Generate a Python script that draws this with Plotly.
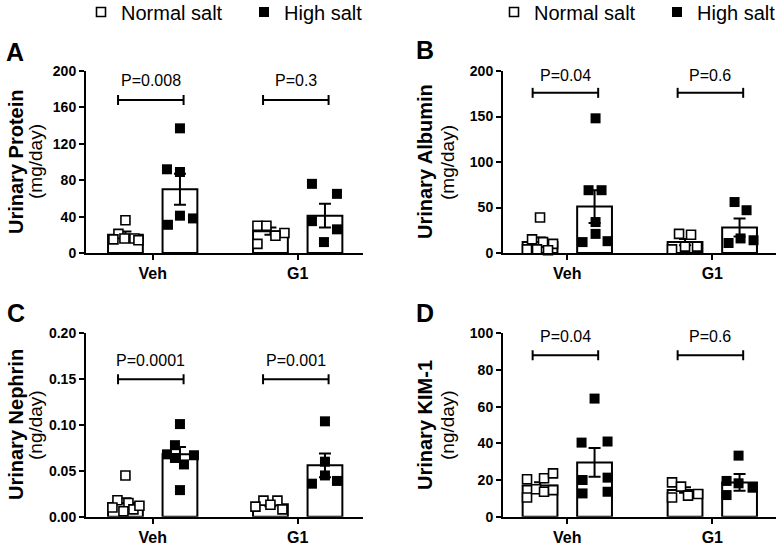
import plotly.graph_objects as go

# ---------------- data ----------------
groups = ["Veh", "G1"]
letters = ["A", "B", "C", "D"]
titles = ["Urinary Protein", "Urinary Albumin", "Urinary Nephrin", "Urinary KIM-1"]
units = ["(mg/day)", "(mg/day)", "(ng/day)", "(ng/day)"]
p_values = [["P=0.008", "P=0.3"], ["P=0.04", "P=0.6"], ["P=0.0001", "P=0.001"], ["P=0.04", "P=0.6"]]
bracket_y = [168, 176, 0.150, 88]
p_text_y = [190, 195, 0.170, 98]
y_max = [200, 200, 0.20, 100]
y_dtick = [40, 50, 0.05, 20]
y_format = ["d", "d", ".2f", "d"]

# group means and SEM  [Veh, G1]
mean_normal = [[20, 24], [12, 12], [0.015, 0.0135], [17, 14.5]]
sem_normal = [[3.5, 4], [5, 3.5], [0.005, 0.002], [1.8, 1.5]]
mean_high = [[70, 41], [51, 28], [0.068, 0.056], [29.6, 18.7]]
sem_high = [[17, 13], [18, 10], [0.008, 0.013], [7.8, 4.6]]

# individual animals
A_normal_veh = [36, 21, 15, 16, 16, 14]
A_normal_g1 = [30, 30, 22, 19, 10]
A_high_veh = [137, 92, 89, 41, 31, 38]
A_high_g1 = [76, 65, 35, 26, 12]

B_normal_veh = [39, 15, 12, 10, 4, 4, 3]
B_normal_g1 = [21, 20, 4, 7, 7]
B_high_veh = [148, 69, 69, 34, 21, 12, 13]
B_high_g1 = [56, 47, 16, 11, 14]

C_normal_veh = [0.045, 0.018, 0.015, 0.010, 0.006, 0.008, 0.012]
C_normal_g1 = [0.0175, 0.0175, 0.013, 0.011, 0.008]
C_high_veh = [0.101, 0.078, 0.068, 0.067, 0.064, 0.057, 0.029]
C_high_g1 = [0.104, 0.060, 0.045, 0.036, 0.039]

D_normal_veh = [20.4, 10.5, 15, 21, 13.6, 23.6, 14.5]
D_normal_g1 = [18.7, 16.4, 10.5, 11.5, 12.4]
D_high_veh = [64.4, 40.4, 41, 20, 21.3, 12.7, 13.6]
D_high_g1 = [33.3, 19.5, 18.2, 15.8, 11.8]

# horizontal scatter of points within a bar (pixels)
A_normal_veh_jit = [0, -7, -12, -1, 9, 13]
A_normal_g1_jit = [-13, -4, 14, 5, -13]
A_high_veh_jit = [0, -13, 0, 0, -12, 13]
A_high_g1_jit = [-13, 12, -13, 12, -1]

B_normal_veh_jit = [0, -8, 3, 13, -13, -3, 8]
B_normal_g1_jit = [-6, 6, -13, 0, 12]
B_high_veh_jit = [1, -6, 7, 1, 1, -12, 13]
B_high_g1_jit = [-5, 7, 1, -11, 14]

C_normal_veh_jit = [0, -8, 3, -13, -2, 8, 14]
C_normal_g1_jit = [-7, 7, 0, -15, 12]
C_high_veh_jit = [0, -5, -13, 14, -5, 4, 0]
C_high_g1_jit = [0, 0, 0, -13, 12]

D_normal_veh_jit = [-13, -13, -4, 4, 4, 13, 13]
D_normal_g1_jit = [-13, -4, -13, 3, 13]
D_high_veh_jit = [0, -13, 13, -12, 13, -12, 13]
D_high_g1_jit = [-1, -13, -1, 13, -13]

points = [
    (A_normal_veh, A_normal_g1, A_high_veh, A_high_g1),
    (B_normal_veh, B_normal_g1, B_high_veh, B_high_g1),
    (C_normal_veh, C_normal_g1, C_high_veh, C_high_g1),
    (D_normal_veh, D_normal_g1, D_high_veh, D_high_g1),
]
jitters = [
    (A_normal_veh_jit, A_normal_g1_jit, A_high_veh_jit, A_high_g1_jit),
    (B_normal_veh_jit, B_normal_g1_jit, B_high_veh_jit, B_high_g1_jit),
    (C_normal_veh_jit, C_normal_g1_jit, C_high_veh_jit, C_high_g1_jit),
    (D_normal_veh_jit, D_normal_g1_jit, D_high_veh_jit, D_high_g1_jit),
]

# ---------------- layout constants ----------------
W, H = 778, 545
PX = 145.0          # pixels per group unit
OFF = 0.188         # bar offset from group centre
BW = 0.24           # bar width
FONT = "Liberation Sans, Arial, Helvetica, sans-serif"

# plot areas in pixels: (left, right, top, bottom)
areas = [(86, 362.7, 71, 253), (503, 776, 71, 253),
         (86, 362.7, 333.3, 516.7), (503, 776, 333.3, 516.7)]
veh_px = [152.7, 567.3, 152.7, 567.3]
title_x = [16, 425, 16, 425]
unit_x = [35, 447, 35, 447]
letter_pos = [(15, 52), (425, 50), (16, 313), (425, 313)]

fig = go.Figure()
annotations = []
shapes = []
layout = {}

for i in range(4):
    sfx = "" if i == 0 else str(i + 1)
    xa, ya = "x" + sfx, "y" + sfx
    l, r, t, b = areas[i]
    xr = [-(veh_px[i] - l) / PX, (r - veh_px[i]) / PX]
    layout["xaxis" + sfx] = dict(
        domain=[l / W, r / W], range=xr, anchor=ya,
        tickmode="array", tickvals=[0, 1], ticktext=groups,
        ticks="outside", ticklen=5, tickwidth=2, tickcolor="black",
        showline=True, linewidth=2, linecolor="black",
        showgrid=False, zeroline=False,
        tickfont=dict(family=FONT, size=16, color="black", weight="bold"),
        fixedrange=True,
    )
    layout["yaxis" + sfx] = dict(
        domain=[1 - b / H, 1 - t / H], range=[0, y_max[i]], anchor=xa,
        dtick=y_dtick[i], tick0=0, tickformat=y_format[i],
        ticks="outside", ticklen=5, tickwidth=2, tickcolor="black",
        showline=True, linewidth=2, linecolor="black",
        showgrid=False, zeroline=False,
        tickfont=dict(family=FONT, size=14, color="black", weight="bold"),
        fixedrange=True,
    )

    # bars
    for k, (means, sems) in enumerate([(mean_normal[i], sem_normal[i]),
                                       (mean_high[i], sem_high[i])]):
        xs = [g + (-OFF if k == 0 else OFF) for g in range(2)]
        fig.add_trace(go.Bar(
            x=xs, y=means, width=BW, xaxis=xa, yaxis=ya,
            marker=dict(color="white", line=dict(color="black", width=2)),
            error_y=dict(type="data", array=sems, visible=True,
                         color="black", thickness=2, width=6),
            showlegend=False, hoverinfo="skip",
        ))

    # points
    nv, ng, hv, hg = points[i]
    jnv, jng, jhv, jhg = jitters[i]
    for k, (vv, gv, jv, jg) in enumerate([(nv, ng, jnv, jng), (hv, hg, jhv, jhg)]):
        off = -OFF if k == 0 else OFF
        xs = [0 + off + j / PX for j in jv] + [1 + off + j / PX for j in jg]
        ys = list(vv) + list(gv)
        name = "Normal salt" if k == 0 else "High salt"
        if k == 0:
            mk = dict(symbol="square", size=9, color="white",
                      line=dict(color="black", width=1.6))
        else:
            mk = dict(symbol="square", size=10, color="black",
                      line=dict(color="black", width=0))
        tr = dict(x=xs, y=ys, mode="markers", marker=mk, name=name,
                  xaxis=xa, yaxis=ya, hoverinfo="skip", cliponaxis=False)
        if i == 0:
            tr.update(showlegend=True, legend="legend")
        elif i == 1:
            tr.update(showlegend=True, legend="legend2")
        else:
            tr.update(showlegend=False)
        fig.add_trace(go.Scatter(**tr))

    # significance brackets
    for g in range(2):
        x0, x1 = g - 0.239, g + 0.213
        by = bracket_y[i]
        shapes.append(dict(type="line", xref=xa, yref=ya, x0=x0, x1=x1, y0=by, y1=by,
                           line=dict(color="black", width=2)))
        for xx in (x0, x1):
            shapes.append(dict(type="line", xref=xa, yref=ya, xsizemode="scaled",
                               ysizemode="pixel", yanchor=by, x0=xx, x1=xx, y0=-5, y1=5,
                               line=dict(color="black", width=2)))
        annotations.append(dict(text=p_values[i][g], xref=xa, yref=ya,
                                x=(x0 + x1) / 2, y=p_text_y[i], showarrow=False,
                                xanchor="center", yanchor="middle",
                                font=dict(family=FONT, size=16, color="black")))

    # y titles
    ymid = 1 - (t + b) / 2 / H
    annotations.append(dict(text=titles[i], xref="paper", yref="paper",
                            x=title_x[i] / W, y=ymid, textangle=-90, showarrow=False,
                            xanchor="center", yanchor="middle",
                            font=dict(family=FONT, size=20, color="black", weight="bold")))
    annotations.append(dict(text=units[i], xref="paper", yref="paper",
                            x=unit_x[i] / W, y=ymid, textangle=-90, showarrow=False,
                            xanchor="center", yanchor="middle",
                            font=dict(family=FONT, size=19, color="black")))
    # panel letter
    lx, ly = letter_pos[i]
    annotations.append(dict(text=letters[i], xref="paper", yref="paper",
                            x=lx / W, y=1 - ly / H, showarrow=False,
                            xanchor="center", yanchor="middle",
                            font=dict(family=FONT, size=25, color="black", weight="bold")))

legend_common = dict(orientation="h", xanchor="left", yanchor="middle",
                     font=dict(family=FONT, size=20, color="black"),
                     bgcolor="rgba(0,0,0,0)", borderwidth=0,
                     entrywidthmode="pixels", entrywidth=118, itemclick=False)
layout["legend"] = dict(x=81 / W, y=1 - 12 / H, **legend_common)
layout["legend2"] = dict(x=494 / W, y=1 - 12 / H, **legend_common)

fig.update_layout(
    width=W, height=H, autosize=False,
    margin=dict(l=0, r=0, t=0, b=0, autoexpand=False),
    paper_bgcolor="white", plot_bgcolor="white",
    barmode="overlay",
    shapes=shapes, annotations=annotations,
    font=dict(family=FONT, color="black"),
    **layout,
)

fig.write_html(
    "out.html",
    config={"displayModeBar": False, "staticPlot": True},
    post_script="document.body.style.margin='0px';document.body.style.overflow='hidden';",
)
